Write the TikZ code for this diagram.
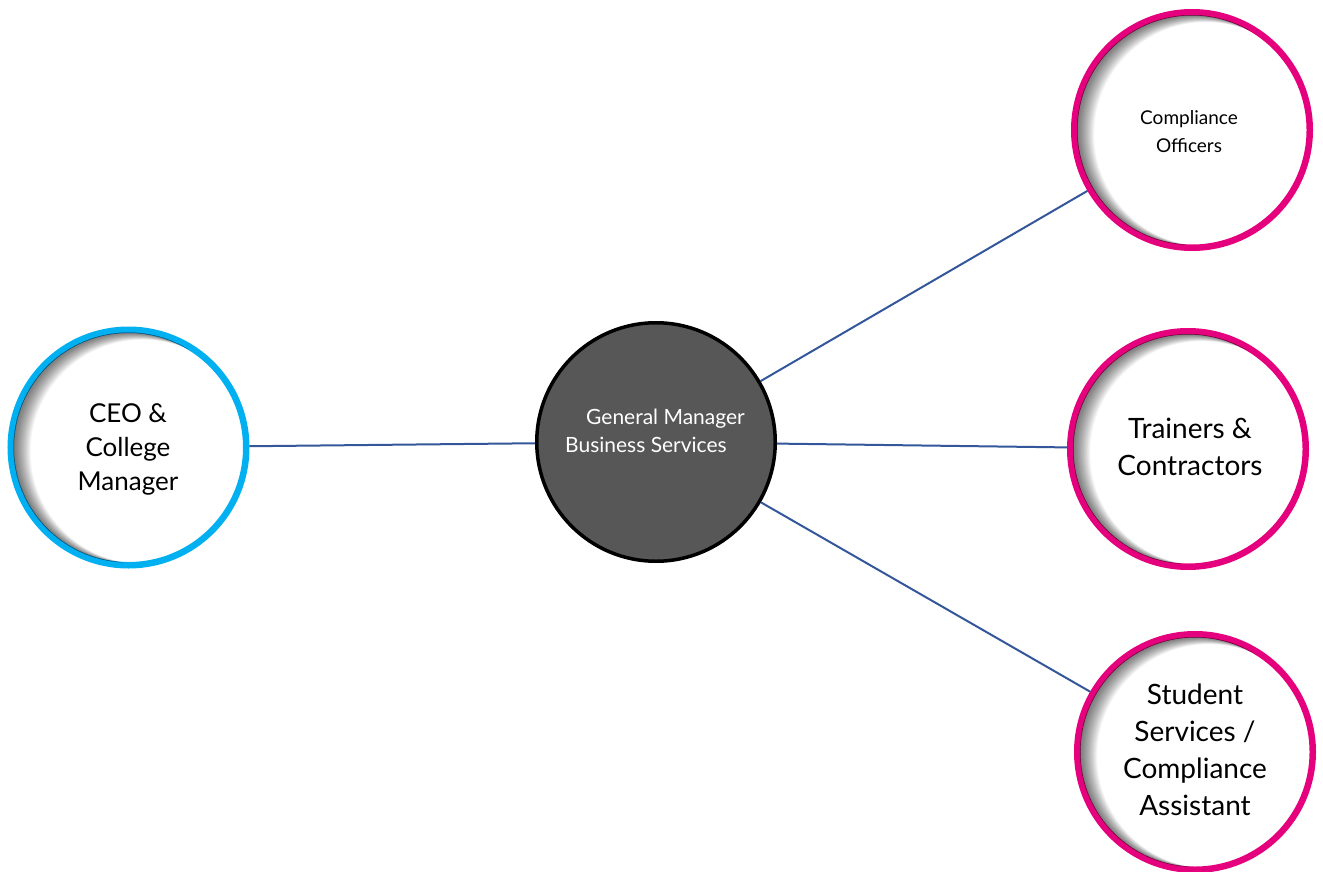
\documentclass[tikz,border=0pt]{standalone}
\usepackage{fontspec}
\setmainfont{Lato}
\definecolor{ceoblue}{HTML}{00B0F0}
\definecolor{staffpink}{HTML}{E5007D}
\definecolor{gmgrey}{HTML}{575757}
\definecolor{linkblue}{HTML}{34569A}
% soft inner shadow along the left inside edge of a ring
\newcommand{\ringshade}[1]{%
  \begin{scope}
    \clip (#1.center) circle[radius=115pt];
    \foreach \k in {1,...,24}
      \fill[black,opacity=0.026,even odd rule]
        (#1.center) circle[radius=200pt]
        ([xshift=\k*0.6pt,yshift=-\k*0.18pt]#1.center) circle[radius=115pt-\k*0.12pt];
  \end{scope}}
\begin{document}
\begin{tikzpicture}[x=1pt,y=-1pt,
  ring/.style={circle, minimum size=235.5pt, inner sep=0pt, line width=6.5pt, fill=white},
  headring/.style={ring, draw=ceoblue},
  staffring/.style={ring, draw=staffpink},
  gmring/.style={circle, minimum size=238.5pt, inner sep=0pt, line width=3.5pt, draw=black, fill=gmgrey},
  label/.style={align=center, inner sep=0pt, text=black},
  link/.style={draw=linkblue, line width=2pt}]
\useasboundingbox (0,0) rectangle (1323,872);

% circles
\node[headring]  (ceo)      at (128.5,447.5) {};
\node[gmring]    (gm)       at (656,442) {};
\node[staffring] (officers) at (1192,130) {};
\node[staffring] (trainers) at (1188,449) {};
\node[staffring] (student)  at (1195,752) {};

\ringshade{ceo}
\ringshade{officers}
\ringshade{trainers}
\ringshade{student}

% reporting lines
\draw[link] (ceo) -- (gm);
\draw[link] (gm) -- (officers);
\draw[link] (gm) -- (trainers);
\draw[link] (gm) -- (student);

% labels
\node[label, font=\fontsize{26}{34}\selectfont] (ceo-text) at (128,449)
  {CEO \&\\College\\Manager};
\node[align=left, inner sep=0pt, text=white, font=\fontsize{21}{28}\selectfont] (gm-text) at (655,431)
  {\hspace*{21pt}General Manager\\Business Services};
\node[label, font=\fontsize{19}{28}\selectfont] (officers-text) at (1189,132)
  {Compliance\\Officers};
\node[label, font=\fontsize{28}{37}\selectfont] (trainers-text) at (1190,447)
  {Trainers \&\\Contractors};
\node[label, font=\fontsize{28}{37}\selectfont] (student-text) at (1195,750)
  {Student\\Services /\\Compliance\\Assistant};
\end{tikzpicture}
\end{document}
